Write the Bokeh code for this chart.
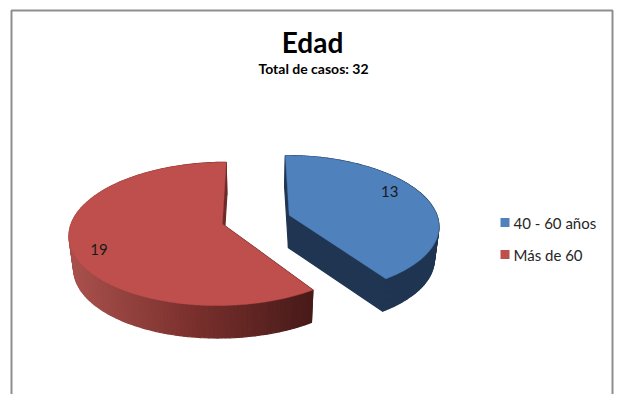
import numpy as np
from bokeh.plotting import figure
from bokeh.models import Range1d
from bokeh.core.properties import value
from bokeh.embed import file_html
from bokeh.resources import INLINE

# Chart content
title = "Edad"
subtitle = "Total de casos: 32"
categories = ["40 - 60 años", "Más de 60"]
counts = [13, 19]
top_colors = ["#4F81BD", "#BE4F4C"]

# View of the tilted disc, in page pixels
CX, CY = 256.0, 219.0
RX, RY = 152.0, 69.0
PERSPECTIVE = 0.138
EXPLODE = 0.22
DEPTH = 32.5
BASE_SHRINK = 0.975

# Per-slice fine tuning of the view: horizontal rim scale and page offset
rim_scale = [0.98, 0.985]
slice_dx = [1.0, -2.0]
# Value label placement: radius on the disc, angle offset from the bisector
label_radius = [0.80, 0.83]
label_turn = [-0.18, -0.133]


def project(u, v, base=False):
    w = 1 + PERSPECTIVE * v
    k = BASE_SHRINK if base else 1.0
    return CX + k * RX * u / w, CY - RY * v / w + (DEPTH if base else 0.0)


def lerp_hex(t, stops):
    t = min(max(t, 0.0), 1.0) * (len(stops) - 1)
    i = min(int(t), len(stops) - 2)
    f = t - i
    rgb = [round(a + (b - a) * f) for a, b in zip(stops[i], stops[i + 1])]
    return "#%02x%02x%02x" % tuple(rgb)


RED_SIDE = [(168, 80, 76), (122, 48, 45), (72, 27, 25)]
BLUE_SIDE = "#1F3552"

p = figure(width=618, height=394, output_backend="svg", toolbar_location=None,
           x_range=Range1d(0, 618), y_range=Range1d(394, 0), min_border=0,
           outline_line_color=None, background_fill_color="white",
           border_fill_color="white")
p.axis.visible = False
p.grid.visible = False

# Chart frame, open at the bottom where the page cuts it off
p.line([11, 11, 612, 612], [394, 10, 10, 394], line_color="#8E8E8E", line_width=2)

total = sum(counts)
start = 0.0
for idx, n in enumerate(counts):
    sweep = 2 * np.pi * n / total
    mid = start + sweep / 2
    ox, oy = EXPLODE * np.sin(mid), EXPLODE * np.cos(mid)
    ang = np.linspace(start, start + sweep, max(int(n * 8), 24))
    u = np.r_[ox, ox + rim_scale[idx] * np.sin(ang)]
    v = np.r_[oy, oy + np.cos(ang)]

    tx, ty = project(u, v)
    bx, by = project(u, v, base=True)
    tx, bx = tx + slice_dx[idx], bx + slice_dx[idx]
    closed = np.r_[np.arange(len(u)), 0]

    # Side walls: one quad per outline segment, then the top face over them
    xs, ys, cols = [], [], []
    for a, b in zip(closed[:-1], closed[1:]):
        xs.append([tx[a], tx[b], bx[b], bx[a]])
        ys.append([ty[a], ty[b], by[b], by[a]])
        if idx == 0:
            cols.append(BLUE_SIDE)
        else:
            xm = (tx[a] + tx[b]) / 2
            cols.append(lerp_hex((xm - 72) / (310 - 72), RED_SIDE))
    p.patches(xs, ys, fill_color=cols, line_color=cols, line_width=1.2)
    p.patch(tx, ty, fill_color=top_colors[idx], line_color=top_colors[idx], line_width=0.5)

    # Value label, set inside the rim near the slice bisector
    turn = mid + label_turn[idx]
    lx, ly = project(ox + label_radius[idx] * np.sin(turn), oy + label_radius[idx] * np.cos(turn))
    p.text([lx + slice_dx[idx]], [ly], text=[str(n)], text_font=value("Lato"), text_font_size="15px",
           text_color="#1a1a1a", text_align="center", text_baseline="middle")
    start += sweep

# Titles
p.text([312], [41], text=[title], text_font=value("Lato"), text_font_size="28px",
       text_font_style="bold", text_color="#000000", text_align="center", text_baseline="middle")
p.text([313], [68], text=[subtitle], text_font=value("Lato"), text_font_size="14px",
       text_font_style="bold", text_color="#000000", text_align="center", text_baseline="middle")

# Legend
legend_y = [222, 254]
p.scatter([504.5] * 2, legend_y, marker="square", size=9, fill_color=top_colors, line_color=None)
p.text([513] * 2, legend_y, text=categories, text_font=value("Lato"), text_font_size="15px",
       text_color="#262626", text_align="left", text_baseline="middle")

open("out.html", "w").write(file_html(p, INLINE))
